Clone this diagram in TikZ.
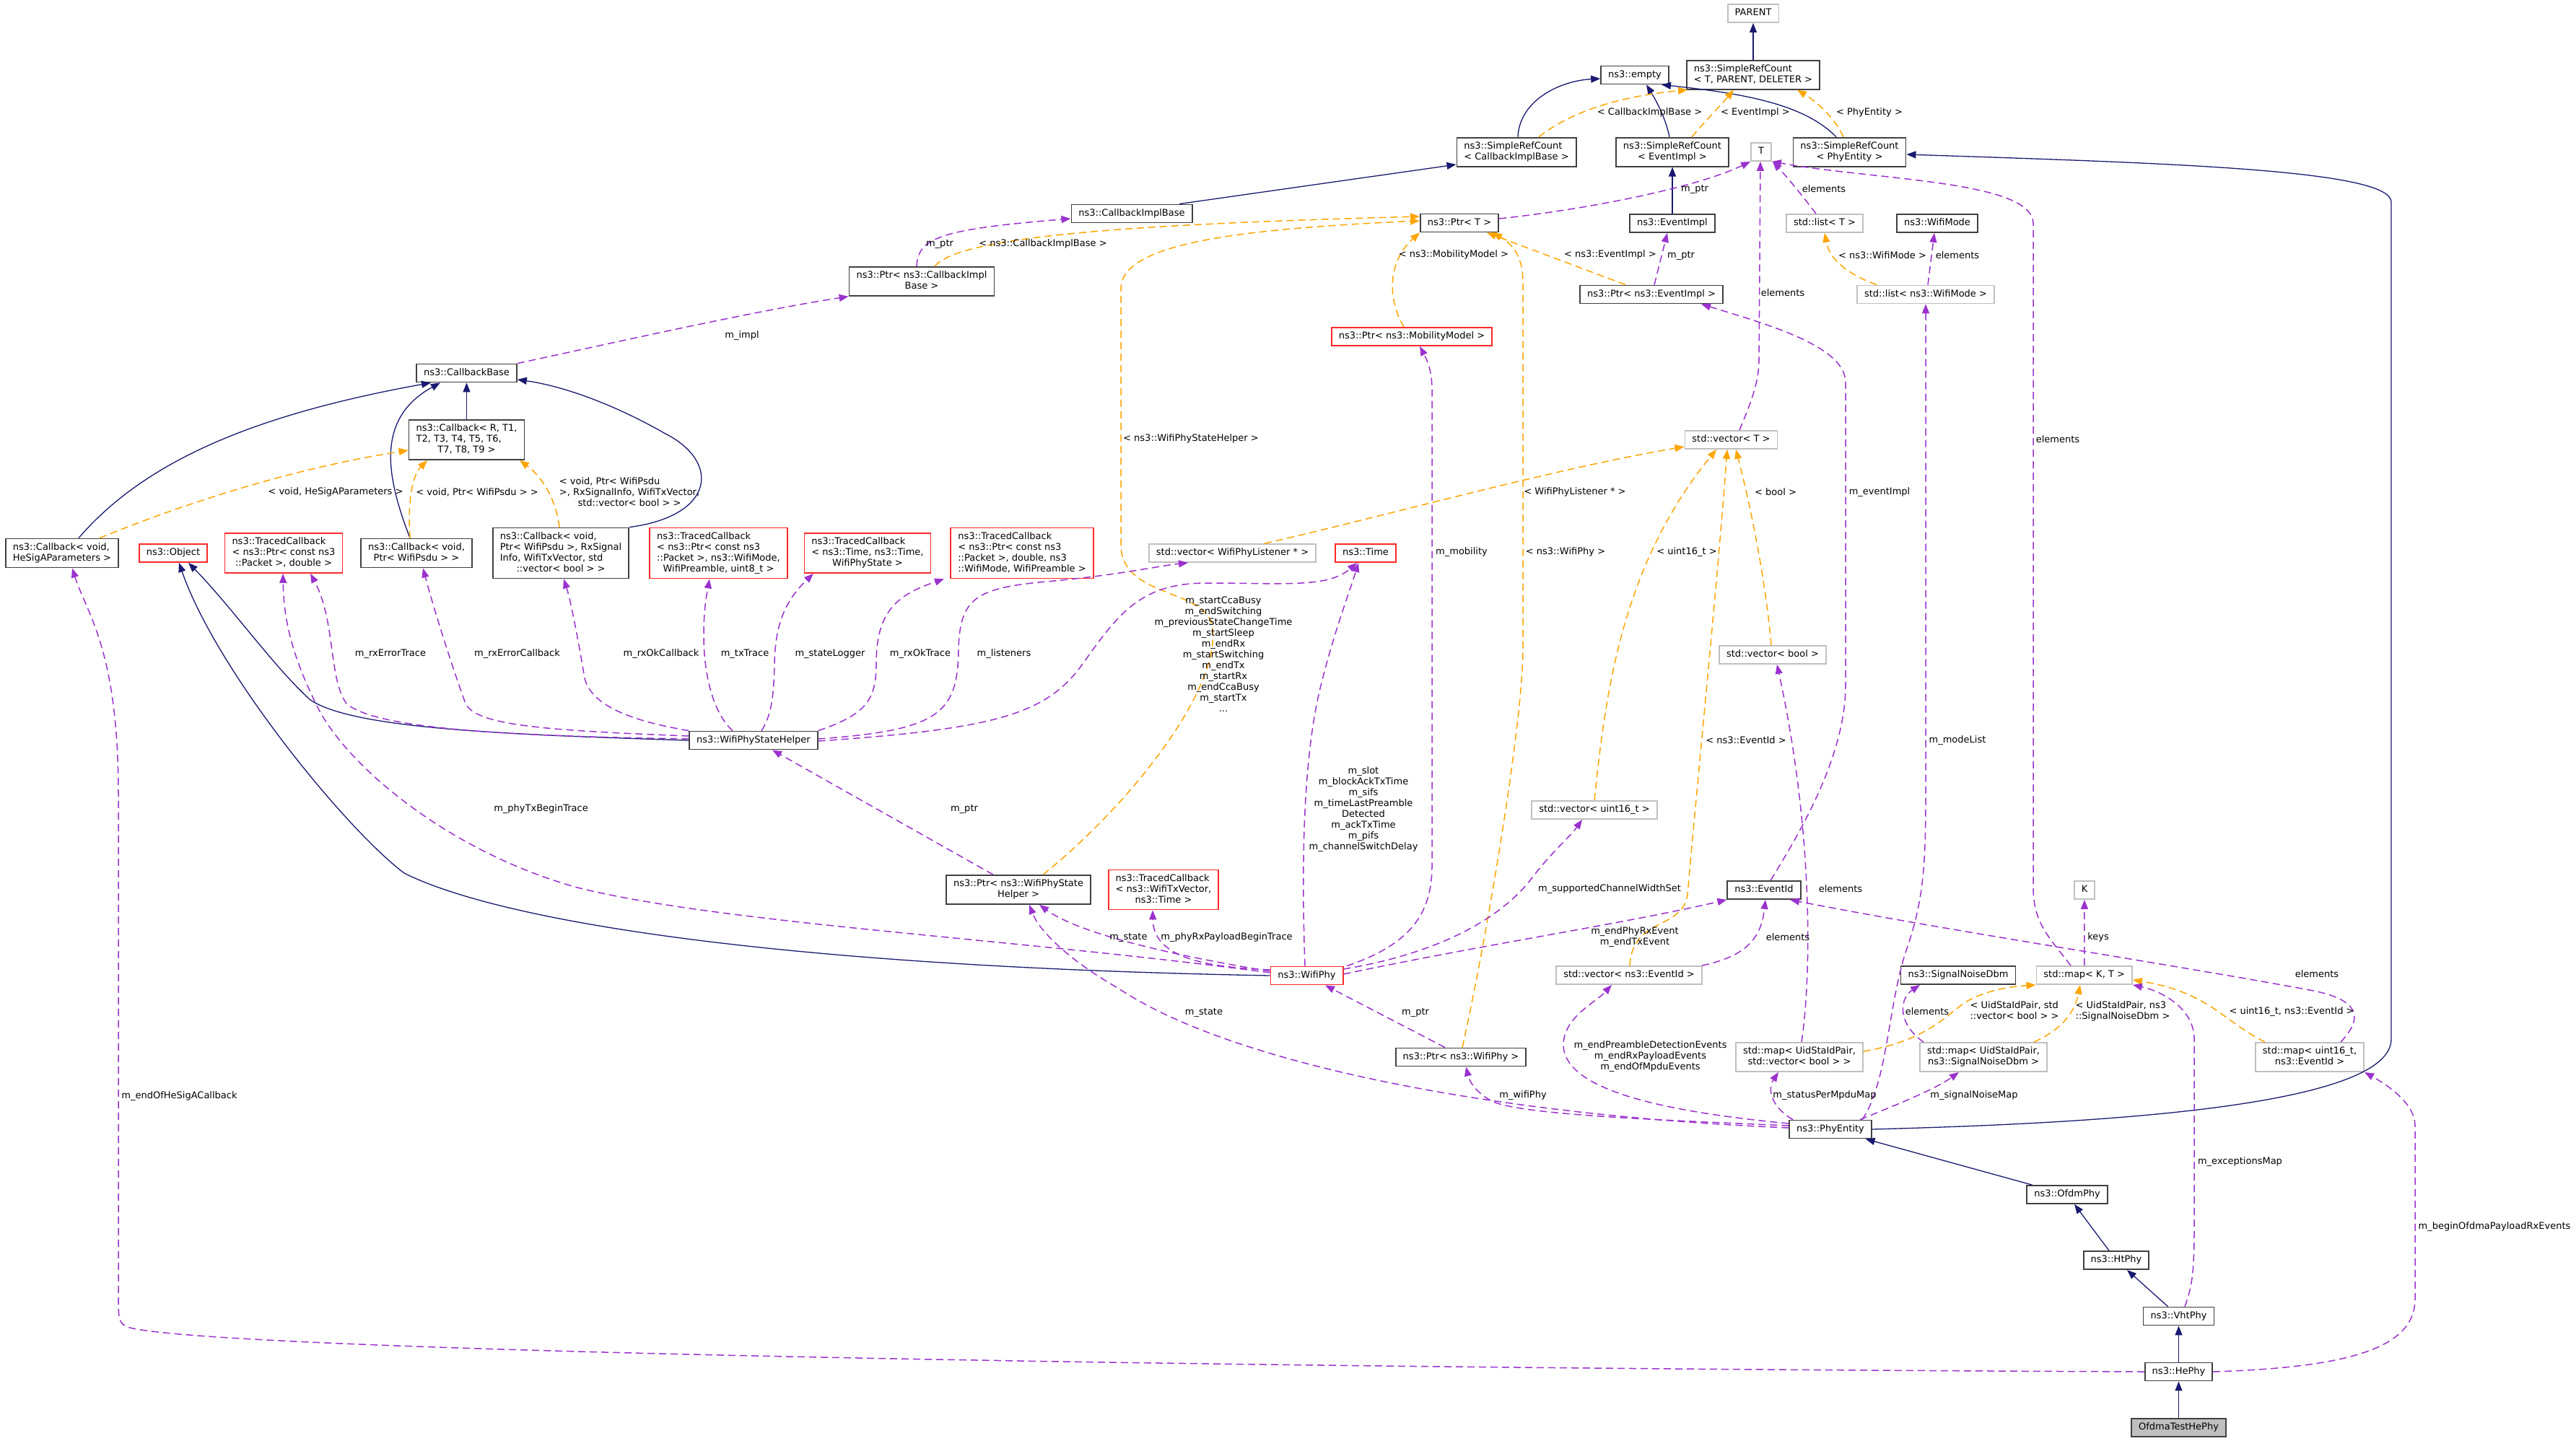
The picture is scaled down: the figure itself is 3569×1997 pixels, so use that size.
\documentclass[tikz,border=0pt]{standalone}
\usepackage{fontspec}
\setmainfont{DejaVu Sans}
\usetikzlibrary{arrows.meta}
\definecolor{cnavy}{RGB}{25,25,112}
\definecolor{cpurp}{RGB}{154,50,205}
\definecolor{corange}{RGB}{255,165,0}
\definecolor{cred}{RGB}{255,40,40}
\definecolor{cgray}{RGB}{191,191,191}
\definecolor{cborder}{RGB}{64,64,64}
\newcommand{\mlbox}[2]{\begin{tabular}{@{}l@{}}#1\\\multicolumn{1}{@{}c@{}}{#2}\end{tabular}}
\begin{document}
\begin{tikzpicture}[x=1pt,y=-1pt,
 box/.style={draw=cborder, line width=1.8pt, fill=white, inner xsep=10pt, inner ysep=5pt, font=\fontsize{13}{15}\selectfont, execute at begin node=\strut},
 gbox/.style={box, draw=cgray},
 rbox/.style={box, draw=cred},
 lbl/.style={inner sep=0pt, font=\fontsize{13}{15}\selectfont, align=center},
 inh/.style={draw=cnavy, line width=1.3pt, -{Triangle[length=13pt,width=10pt]}},
 tmpl/.style={draw=corange, line width=1.5pt, dash pattern=on 10pt off 6pt, -{Triangle[length=13pt,width=10pt]}},
 use/.style={draw=cpurp, line width=1.5pt, dash pattern=on 10pt off 6pt, -{Triangle[length=13pt,width=10pt]}},
]
\fill[white] (0,0) rectangle (3569,1997);
\useasboundingbox (0,0) rectangle (3569,1997);

% ---------- nodes ----------
\node[gbox] (parent) at (2429,18.5) {PARENT};
\node[box] (srctpd) at (2429,103.6) {\mlbox{ns3::SimpleRefCount}{< T, PARENT, DELETER >}};
\node[box] (empty) at (2265,104) {ns3::empty};
\node[box] (srccib) at (2101,210.6) {\mlbox{ns3::SimpleRefCount}{< CallbackImplBase >}};
\node[box] (srcei) at (2317,210.6) {\mlbox{ns3::SimpleRefCount}{< EventImpl >}};
\node[gbox] (T) at (2440,210.5) {T};
\node[box] (srcpe) at (2562.5,210.6) {\mlbox{ns3::SimpleRefCount}{< PhyEntity >}};
\node[box] (cib) at (1568,296) {ns3::CallbackImplBase};
\node[box] (ptrT) at (2022,309) {ns3::Ptr< T >};
\node[box] (eventimpl) at (2317,309.5) {ns3::EventImpl};
\node[gbox] (listT) at (2528,309.5) {std::list< T >};
\node[box] (wifimode) at (2684,309.5) {ns3::WifiMode};
\node[box] (ptrcib) at (1277,390) {\mlbox{ns3::Ptr< ns3::CallbackImpl}{Base >}};
\node[box] (ptrei) at (2288,408) {ns3::Ptr< ns3::EventImpl >};
\node[gbox] (listwm) at (2668,408) {std::list< ns3::WifiMode >};
\node[rbox] (ptrmm) at (1956,466.5) {ns3::Ptr< ns3::MobilityModel >};
\node[box] (cbbase) at (646.5,517) {ns3::CallbackBase};
\node[box] (cbR) at (646.5,609.5) {\mlbox{ns3::Callback< R, T1,\\T2, T3, T4, T5, T6,}{T7, T8, T9 >}};
\node[gbox] (vecT) at (2398.5,609.5) {std::vector< T >};
\node[box] (cbhesig) at (86,766.5) {\mlbox{ns3::Callback< void,}{HeSigAParameters >}};
\node[rbox] (object) at (240,766.5) {ns3::Object};
\node[rbox] (tcpd) at (393,766.5) {\mlbox{ns3::TracedCallback\\< ns3::Ptr< const ns3}{::Packet >, double >}};
\node[box] (cbpsdu) at (577,766.5) {\mlbox{ns3::Callback< void,}{Ptr< WifiPsdu > >}};
\node[box] (cbrx) at (777,766.5) {\mlbox{ns3::Callback< void,\\Ptr< WifiPsdu >, RxSignal\\Info, WifiTxVector, std}{::vector< bool > >}};
\node[rbox] (tctx) at (995.5,766.5) {\mlbox{ns3::TracedCallback\\< ns3::Ptr< const ns3\\::Packet >, ns3::WifiMode,}{WifiPreamble, uint8\_t >}};
\node[rbox] (tcstate) at (1202,766.5) {\mlbox{ns3::TracedCallback\\< ns3::Time, ns3::Time,}{WifiPhyState >}};
\node[rbox] (tcrx) at (1416,766.5) {\mlbox{ns3::TracedCallback\\< ns3::Ptr< const ns3\\::Packet >, double, ns3}{::WifiMode, WifiPreamble >}};
\node[gbox] (veclist) at (1707.5,766.5) {std::vector< WifiPhyListener * >};
\node[rbox] (time) at (1892,766.5) {ns3::Time};
\node[gbox] (vecbool) at (2456,907.5) {std::vector< bool >};
\node[box] (wpsh) at (1044,1026) {ns3::WifiPhyStateHelper};
\node[gbox] (vecu16) at (2209,1122.5) {std::vector< uint16\_t >};
\node[box] (ptrwpsh) at (1411,1233) {\mlbox{ns3::Ptr< ns3::WifiPhyState}{Helper >}};
\node[rbox] (tctxv) at (1612,1233) {\mlbox{ns3::TracedCallback\\< ns3::WifiTxVector,}{ns3::Time >}};
\node[box] (eventid) at (2444,1233.5) {ns3::EventId};
\node[gbox] (K) at (2888,1233.5) {K};
\node[rbox] (wifiphy) at (1810.5,1352) {ns3::WifiPhy};
\node[gbox] (veceid) at (2257,1351.5) {std::vector< ns3::EventId >};
\node[box] (snd) at (2713,1351.5) {ns3::SignalNoiseDbm};
\node[gbox] (mapKT) at (2887.7,1351.5) {std::map< K, T >};
\node[gbox] (mapvb) at (2493,1465) {\mlbox{std::map< UidStaIdPair,}{std::vector< bool > >}};
\node[gbox] (mapsnd) at (2748,1465) {\mlbox{std::map< UidStaIdPair,}{ns3::SignalNoiseDbm >}};
\node[gbox] (mapu16) at (3200,1465) {\mlbox{std::map< uint16\_t,}{ns3::EventId >}};
\node[box] (ptrwifiphy) at (2024,1465) {ns3::Ptr< ns3::WifiPhy >};
\node[box] (phyentity) at (2536,1565) {ns3::PhyEntity};
\node[box] (ofdm) at (2864,1655.5) {ns3::OfdmPhy};
\node[box] (ht) at (2932,1746.5) {ns3::HtPhy};
\node[box] (vht) at (3018.5,1824) {ns3::VhtPhy};
\node[box] (he) at (3018.5,1901) {ns3::HePhy};
\node[box, fill=cgray] (ofdmatest) at (3018.5,1978.5) {OfdmaTestHePhy};

% ---------- inheritance (navy) ----------
\draw[inh] (srctpd) -- (parent);
\draw[inh] (srccib.north -| 2103,0) .. controls (2105,140) and (2160,112) .. (empty.west |- 0,109);
\draw[inh] (srcei.north -| 2313,0) .. controls (2308,165) and (2295,140) .. (empty.south -| 2281,0);
\draw[inh] (srcpe.north -| 2544,0) .. controls (2500,145) and (2420,130) .. (empty.south -| 2302,0);
\draw[inh] (cib.north -| 1634,0) -- (srccib.west |- 0,228);
\draw[inh] (eventimpl) -- (srcei);
\draw[inh] (phyentity.east) .. controls (2850,1558) and (3313,1540) .. (3313,1440) -- (3313,280) .. controls (3313,235) and (3000,226) .. (srcpe.east |- 0,214);
\draw[inh] (cbR) -- (cbbase);
\draw[inh] (cbhesig.north -| 109,0) .. controls (200,640) and (350,575) .. (cbbase.south -| 597,0);
\draw[inh] (cbpsdu.north -| 568,0) .. controls (535,660) and (520,580) .. (cbbase.south -| 610,0);
\draw[inh] (cbrx.north east) .. controls (990,715) and (1000,640) .. (920,600) .. controls (850,560) and (780,535) .. (cbbase.east |- 0,526);
\draw[inh] (wpsh.west) .. controls (700,1018) and (490,1010) .. (430,970) .. controls (380,925) and (320,840) .. (object.south -| 261,0);
\draw[inh] (wifiphy.west) .. controls (1100,1340) and (700,1280) .. (560,1210) .. controls (480,1150) and (300,930) .. (object.south -| 248,0);
\draw[inh] (ofdm) -- (phyentity);
\draw[inh] (ht) -- (ofdm);
\draw[inh] (vht) -- (ht);
\draw[inh] (he) -- (vht);
\draw[inh] (ofdmatest) -- (he);

% ---------- template instances (orange) ----------
\draw[tmpl] (srccib.north -| 2132,0) .. controls (2170,160) and (2230,135) .. (srctpd.south -| 2338,0);
\draw[tmpl] (srcei.north -| 2344,0) .. controls (2365,165) and (2385,145) .. (srctpd.south -| 2402,0);
\draw[tmpl] (srcpe.north -| 2554,0) .. controls (2540,160) and (2515,140) .. (srctpd.south -| 2490,0);
\draw[tmpl] (ptrcib.north -| 1295,0) .. controls (1330,325) and (1600,310) .. (ptrT.west |- 0,300);
\draw[tmpl] (ptrwpsh.north -| 1445,0) .. controls (1560,1120) and (1690,960) .. (1680,870) .. controls (1672,815) and (1560,830) .. (1553,760) -- (1553,400) .. controls (1553,340) and (1700,318) .. (ptrT.west |- 0,306);
\draw[tmpl] (ptrmm.north -| 1945,0) .. controls (1920,410) and (1925,360) .. (ptrT.south west);
\draw[tmpl] (ptrei.north -| 2252,0) .. controls (2200,375) and (2120,345) .. (ptrT.south -| 2060,0);
\draw[tmpl] (ptrwifiphy.north -| 2026,0) .. controls (2060,1300) and (2110,1000) .. (2110,900) -- (2110,390) .. controls (2110,350) and (2090,335) .. (ptrT.south -| 2068,0);
\draw[tmpl] (listwm.north -| 2600,0) .. controls (2560,380) and (2535,360) .. (listT.south -| 2528,0);
\draw[tmpl] (veclist.north -| 1752,0) .. controls (1900,720) and (2150,650) .. (vecT.west |- 0,619);
\draw[tmpl] (vecu16.north -| 2209,0) .. controls (2225,950) and (2250,780) .. (vecT.south -| 2378,0);
\draw[tmpl] (vecbool.north -| 2454,0) .. controls (2445,790) and (2420,680) .. (vecT.south -| 2405,0);
\draw[tmpl] (veceid.north -| 2258,0) .. controls (2262,1270) and (2330,1290) .. (2338,1240) .. controls (2350,1100) and (2380,800) .. (vecT.south -| 2393,0);
\draw[tmpl] (mapvb.east |- 0,1457) .. controls (2680,1440) and (2700,1400) .. (2730,1385) .. controls (2760,1370) and (2790,1367) .. (mapKT.south west);
\draw[tmpl] (mapsnd.north -| 2818,0) .. controls (2860,1425) and (2875,1400) .. (mapKT.south -| 2882,0);
\draw[tmpl] (mapu16.north -| 3138,0) .. controls (3080,1415) and (3060,1375) .. (mapKT.east |- 0,1358);
\draw[tmpl] (cbhesig.north -| 138,0) .. controls (250,700) and (400,650) .. (cbR.west |- 0,624);
\draw[tmpl] (cbpsdu.north -| 568,0) .. controls (565,700) and (570,660) .. (cbR.south -| 592,0);
\draw[tmpl] (cbrx.north -| 775,0) .. controls (770,690) and (750,660) .. (cbR.south -| 720,0);

% ---------- usage (purple) ----------
\draw[use] (ptrcib.north -| 1270,0) .. controls (1272,330) and (1300,318) .. (cib.west |- 0,303);
\draw[use] (cbbase.north east) .. controls (850,475) and (1050,430) .. (ptrcib.south west);
\draw[use] (ptrT.east |- 0,303) .. controls (2200,290) and (2350,260) .. (T.south west);
\draw[use] (ptrei.north -| 2292,0) -- (eventimpl.south -| 2310,0);
\draw[use] (listT.north -| 2516,0) .. controls (2500,275) and (2480,250) .. (T.south -| 2456,0);
\draw[use] (listwm.north -| 2671,0) -- (wifimode.south -| 2680,0);
\draw[use] (vecT.north -| 2410,0) .. controls (2425,560) and (2437,530) .. (2437,500) -- (T.south -| 2439,0);
\draw[use] (mapKT.north -| 2869,0) .. controls (2840,1300) and (2817,1280) .. (2817,1230) -- (2817,310) .. controls (2817,250) and (2600,250) .. (T.south east);
\draw[use] (veceid.north -| 2358,0) .. controls (2420,1325) and (2440,1300) .. (eventid.south -| 2446,0);
\draw[use] (mapu16.north -| 3243,0) .. controls (3275,1410) and (3270,1385) .. (3200,1372) .. controls (3000,1335) and (2700,1290) .. (eventid.south -| 2480,0);
\draw[use] (mapvb.north -| 2496,0) .. controls (2510,1350) and (2512,1150) .. (vecbool.south -| 2462,0);
\draw[use] (mapsnd.north -| 2665,0) .. controls (2630,1420) and (2630,1385) .. (snd.south -| 2660,0);
\draw[use] (mapKT) -- (K);
\draw[use] (wpsh.west |- 0,1020) .. controls (750,1012) and (660,1005) .. (645,975) .. controls (625,920) and (600,840) .. (cbpsdu.south -| 586,0);
\draw[use] (wpsh.west |- 0,1024) .. controls (700,1020) and (520,1010) .. (480,975) .. controls (455,940) and (465,860) .. (tcpd.south -| 430,0);
\draw[use] (wpsh.north west) .. controls (880,1000) and (820,980) .. (810,940) .. controls (800,880) and (790,830) .. (cbrx.south -| 781,0);
\draw[use] (wpsh.north -| 1015,0) .. controls (990,990) and (975,940) .. (975,880) .. controls (975,840) and (980,820) .. (tctx.south -| 983,0);
\draw[use] (wpsh.north -| 1055,0) .. controls (1070,990) and (1072,960) .. (1073,920) .. controls (1074,870) and (1085,835) .. (tcstate.south -| 1127,0);
\draw[use] (wpsh.north east) .. controls (1200,990) and (1214,970) .. (1214,920) .. controls (1214,850) and (1240,825) .. (tcrx.south -| 1308,0);
\draw[use] (wpsh.east |- 0,1024) .. controls (1300,1012) and (1327,990) .. (1328,900) .. controls (1330,830) and (1350,815) .. (1450,806) .. controls (1550,797) and (1600,785) .. (veclist.south -| 1646,0);
\draw[use] (wpsh.east |- 0,1027) .. controls (1380,1010) and (1450,990) .. (1500,920) .. controls (1550,850) and (1580,808) .. (1672,808) .. controls (1780,808) and (1840,815) .. (time.south -| 1880,0);
\draw[use] (ptrwpsh.north -| 1376,0) -- (wpsh.south -| 1070,0);
\draw[use] (wifiphy.west |- 0,1346) .. controls (1600,1320) and (1490,1290) .. (ptrwpsh.south -| 1440,0);
\draw[use] (wifiphy.west |- 0,1344) .. controls (1650,1340) and (1598,1320) .. (tctxv.south -| 1597,0);
\draw[use] (wifiphy.west |- 0,1348) .. controls (1400,1300) and (1000,1280) .. (800,1230) .. controls (620,1180) and (480,1060) .. (440,980) .. controls (400,900) and (393,850) .. (tcpd.south -| 392,0);
\draw[use] (wifiphy.north -| 1866,0) .. controls (1950,1310) and (1984,1270) .. (1984,1200) -- (1984,540) .. controls (1984,510) and (1975,495) .. (ptrmm.south -| 1967,0);
\draw[use] (wifiphy.north -| 1808,0) .. controls (1803,1200) and (1805,1050) .. (1830,950) .. controls (1850,870) and (1870,820) .. (time.south -| 1882,0);
\draw[use] (wifiphy.east |- 0,1343) .. controls (2000,1320) and (2080,1270) .. (2120,1220) .. controls (2150,1180) and (2175,1160) .. (vecu16.south -| 2192,0);
\draw[use] (wifiphy.east |- 0,1350) .. controls (2050,1310) and (2250,1280) .. (eventid.south west);
\draw[use] (ptrwifiphy.north -| 2002,0) -- (wifiphy.south -| 1836,0);
\draw[use] (phyentity.west |- 0,1560) .. controls (2300,1552) and (2100,1545) .. (2065,1525) .. controls (2040,1510) and (2035,1495) .. (ptrwifiphy.south -| 2031,0);
\draw[use] (phyentity.west |- 0,1563) .. controls (2050,1545) and (1700,1470) .. (1550,1370) .. controls (1480,1330) and (1440,1290) .. (ptrwpsh.south -| 1426,0);
\draw[use] (phyentity.west |- 0,1557) .. controls (2300,1540) and (2170,1510) .. (2166,1450) .. controls (2165,1410) and (2210,1390) .. (veceid.south -| 2233,0);
\draw[use] (phyentity.north -| 2484,0) .. controls (2455,1535) and (2448,1510) .. (mapvb.south -| 2464,0);
\draw[use] (phyentity.north -| 2577,0) .. controls (2630,1530) and (2680,1510) .. (mapsnd.south -| 2714,0);
\draw[use] (phyentity.north -| 2580,0) .. controls (2615,1500) and (2615,1400) .. (2640,1320) .. controls (2665,1250) and (2668,1200) .. (2668,1100) -- (listwm.south -| 2668,0);
\draw[use] (eventid.north -| 2453,0) .. controls (2490,1160) and (2557,1050) .. (2557,950) -- (2557,530) .. controls (2557,480) and (2450,450) .. (ptrei.south -| 2357,0);
\draw[use] (vht.north -| 3027,0) .. controls (3038,1780) and (3040,1760) .. (3040,1700) -- (3040,1440) .. controls (3040,1400) and (3000,1375) .. (mapKT.south east);
\draw[use] (he.east) .. controls (3250,1895) and (3346,1870) .. (3346,1800) -- (3346,1560) .. controls (3346,1530) and (3310,1505) .. (mapu16.south east);
\draw[use] (he.west) .. controls (1500,1895) and (300,1870) .. (180,1840) .. controls (165,1835) and (164,1830) .. (164,1800) -- (164,1100) .. controls (164,900) and (120,850) .. (cbhesig.south -| 100,0);

% ---------- labels ----------
\node[lbl] (l1) at (2285.5,156) {< CallbackImplBase >};
\node[lbl] (l2) at (2432,156) {< EventImpl >};
\node[lbl] (l3) at (2590,156) {< PhyEntity >};
\node[lbl] (l4) at (1445,338) {< ns3::CallbackImplBase >};
\node[lbl] (l5) at (1650,608) {< ns3::WifiPhyStateHelper >};
\node[lbl] (l6) at (2014,353) {< ns3::MobilityModel >};
\node[lbl] (l7) at (2231,353) {< ns3::EventImpl >};
\node[lbl] (l8) at (2169,765) {< ns3::WifiPhy >};
\node[lbl] (l9) at (2608,354) {< ns3::WifiMode >};
\node[lbl] (l10) at (2182,682) {< WifiPhyListener * >};
\node[lbl] (l11) at (2337,765.5) {< uint16\_t >};
\node[lbl] (l12) at (2460,682) {< bool >};
\node[lbl] (l13) at (2419,1025.6) {< ns3::EventId >};
\node[lbl] (l14) at (2791,1402) {\mlbox{< UidStaIdPair, std}{::vector< bool > >}};
\node[lbl] (l15) at (2941,1402) {\mlbox{< UidStaIdPair, ns3}{::SignalNoiseDbm >}};
\node[lbl] (l16) at (3175,1402) {< uint16\_t, ns3::EventId >};
\node[lbl] (l17) at (465,682) {< void, HeSigAParameters >};
\node[lbl] (l18) at (661,682) {< void, Ptr< WifiPsdu > >};
\node[lbl] (l19) at (872,683) {\mlbox{< void, Ptr< WifiPsdu\\>, RxSignalInfo, WifiTxVector,}{std::vector< bool > >}};

\node[lbl] (m1) at (1302,338) {m\_ptr};
\node[lbl] (m2) at (1028,465) {m\_impl};
\node[lbl] (m3) at (2348,262) {m\_ptr};
\node[lbl] (m4) at (2329,354) {m\_ptr};
\node[lbl] (m5) at (2527,262) {elements};
\node[lbl] (m6) at (2712,354) {elements};
\node[lbl] (m7) at (2470,406) {elements};
\node[lbl] (m8) at (2851,609) {elements};
\node[lbl] (m9) at (2604,682.5) {m\_eventImpl};
\node[lbl] (m10) at (2712,1025.6) {m\_modeList};
\node[lbl] (m11) at (2477,1299) {elements};
\node[lbl] (m12) at (3210,1350) {elements};
\node[lbl] (m13) at (2550,1232) {elements};
\node[lbl] (m14) at (2670,1402) {elements};
\node[lbl] (m15) at (2907,1299) {keys};
\node[lbl] (m16) at (716.5,906) {m\_rxErrorCallback};
\node[lbl] (m17) at (541,906) {m\_rxErrorTrace};
\node[lbl] (m18) at (916,906) {m\_rxOkCallback};
\node[lbl] (m19) at (1032,906) {m\_txTrace};
\node[lbl] (m20) at (1150,906) {m\_stateLogger};
\node[lbl] (m21) at (1275,906) {m\_rxOkTrace};
\node[lbl] (m22) at (1391,906) {m\_listeners};
\node[lbl] (m23) at (1695,907) {m\_startCcaBusy\\m\_endSwitching\\m\_previousStateChangeTime\\m\_startSleep\\m\_endRx\\m\_startSwitching\\m\_endTx\\m\_startRx\\m\_endCcaBusy\\m\_startTx\\...};
\node[lbl] (m24) at (1336,1121) {m\_ptr};
\node[lbl] (m25) at (1563.5,1299) {m\_state};
\node[lbl] (m26) at (1699.5,1299) {m\_phyRxPayloadBeginTrace};
\node[lbl] (m27) at (749.5,1121) {m\_phyTxBeginTrace};
\node[lbl] (m28) at (2025,765) {m\_mobility};
\node[lbl] (m29) at (1889,1122) {m\_slot\\m\_blockAckTxTime\\m\_sifs\\m\_timeLastPreamble\\Detected\\m\_ackTxTime\\m\_pifs\\m\_channelSwitchDelay};
\node[lbl] (m30) at (2230,1232) {m\_supportedChannelWidthSet};
\node[lbl] (m31) at (2265,1299) {m\_endPhyRxEvent\\m\_endTxEvent};
\node[lbl] (m32) at (1961,1403) {m\_ptr};
\node[lbl] (m33) at (2110,1518.5) {m\_wifiPhy};
\node[lbl] (m34) at (1668,1403) {m\_state};
\node[lbl] (m35) at (2286.5,1464) {m\_endPreambleDetectionEvents\\m\_endRxPayloadEvents\\m\_endOfMpduEvents};
\node[lbl] (m36) at (2528,1518) {m\_statusPerMpduMap};
\node[lbl] (m37) at (2735,1518) {m\_signalNoiseMap};
\node[lbl] (m38) at (3103.5,1610) {m\_exceptionsMap};
\node[lbl] (m39) at (3456,1700.5) {m\_beginOfdmaPayloadRxEvents};
\node[lbl] (m40) at (248.5,1519) {m\_endOfHeSigACallback};
\end{tikzpicture}
\end{document}
